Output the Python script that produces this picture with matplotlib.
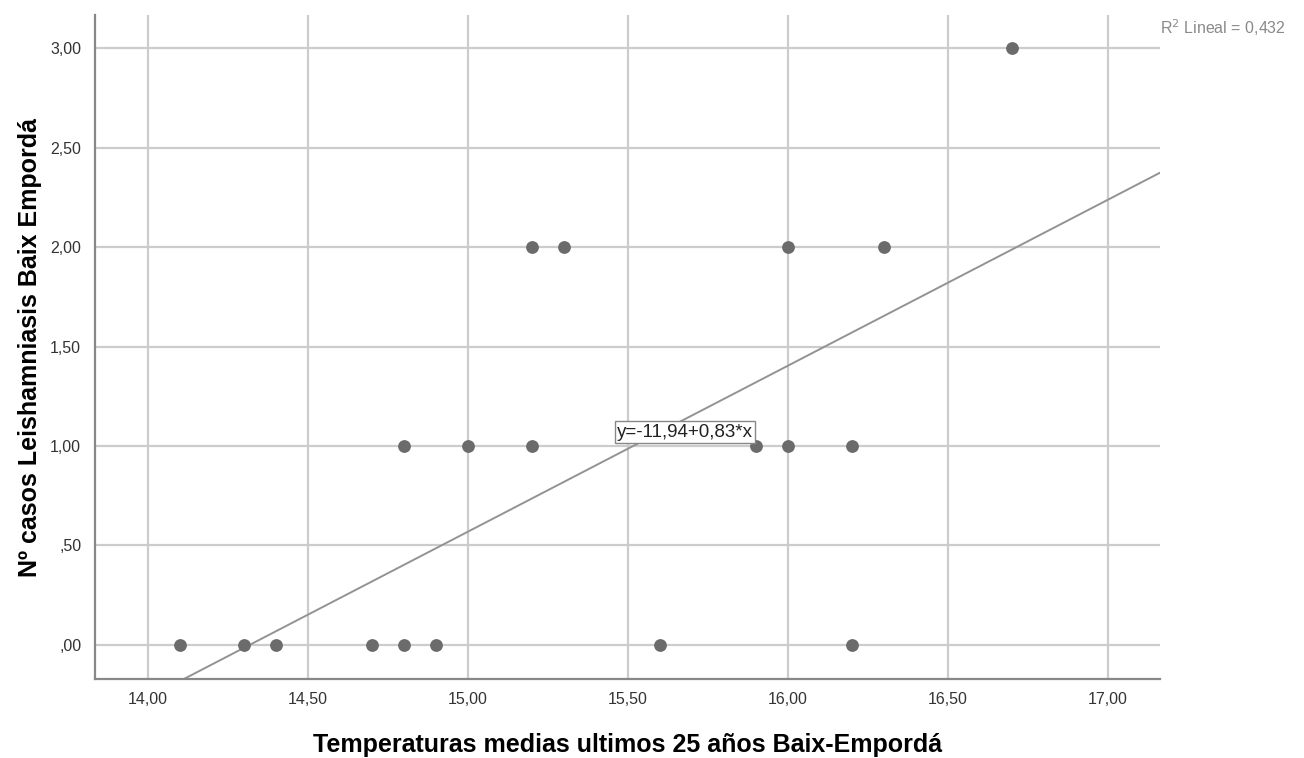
import matplotlib.pyplot as plt
import numpy as np

plt.rcParams['font.family'] = ['Liberation Sans', 'DejaVu Sans']

# datos (casos por año vs temperatura media)
temp_0 = [14.1, 14.3, 14.4, 14.7, 14.8, 14.9, 15.6, 16.2]
temp_1 = [14.8, 15.0, 15.2, 15.9, 16.0, 16.2]
temp_2 = [15.2, 15.3, 16.0, 16.3]
temp_3 = [16.7]
temperaturas = temp_0 + temp_1 + temp_2 + temp_3
casos = [0]*len(temp_0) + [1]*len(temp_1) + [2]*len(temp_2) + [3]*len(temp_3)

# recta de ajuste
intercepto = -11.94
pendiente = 0.834
r2 = 0.432

xticks = [14.0, 14.5, 15.0, 15.5, 16.0, 16.5, 17.0]
xlabels = ['14,00', '14,50', '15,00', '15,50', '16,00', '16,50', '17,00']
yticks = [0.0, 0.5, 1.0, 1.5, 2.0, 2.5, 3.0]
ylabels = [',00', ',50', '1,00', '1,50', '2,00', '2,50', '3,00']

fig = plt.figure(figsize=(13.04, 7.58), dpi=100)
ax = fig.add_axes([0.0729, 0.1042, 0.8167, 0.8760])

xmin, xmax = 13.834, 17.1625
ymin, ymax = -0.171, 3.166
ax.set_xlim(xmin, xmax)
ax.set_ylim(ymin, ymax)

ax.grid(True, color='#cccccc', linewidth=1.6)
ax.set_axisbelow(True)

xs = np.array([xmin, xmax])
ax.plot(xs, intercepto + pendiente * xs, color='#939393', linewidth=1.4, zorder=2)

ax.scatter(temperaturas, casos, s=85, color='#6b6b6b', zorder=3, linewidths=0)

ax.text(15.678, 1.07, 'y=-11,94+0,83*x', ha='center', va='center', fontsize=13.5,
        color='#222222', zorder=4,
        bbox=dict(boxstyle='square,pad=0.12', facecolor='white', edgecolor='#888888', linewidth=1))

fig.text(0.8895, 0.963, 'R$^{2}$ Lineal = ' + f'{r2:.3f}'.replace('.', ','), fontsize=11.5,
         color='#8a8a8a', ha='left', va='center')

ax.set_xticks(xticks)
ax.set_xticklabels(xlabels)
ax.set_yticks(yticks)
ax.set_yticklabels(ylabels)
ax.tick_params(length=0, labelsize=11.5, colors='#333333', pad=9)
ax.tick_params(axis='y', pad=10)

for s in ['top', 'right']:
    ax.spines[s].set_visible(False)
for s in ['left', 'bottom']:
    ax.spines[s].set_color('#888888')
    ax.spines[s].set_linewidth(1.6)

ax.set_xlabel('Temperaturas medias ultimos 25 años Baix-Empordá', fontsize=18, fontweight='bold', labelpad=19)
ax.set_ylabel('Nº casos Leishamniasis Baix Empordá', fontsize=18, fontweight='bold', labelpad=6)

fig.savefig('out.png', dpi=100, facecolor='white')
